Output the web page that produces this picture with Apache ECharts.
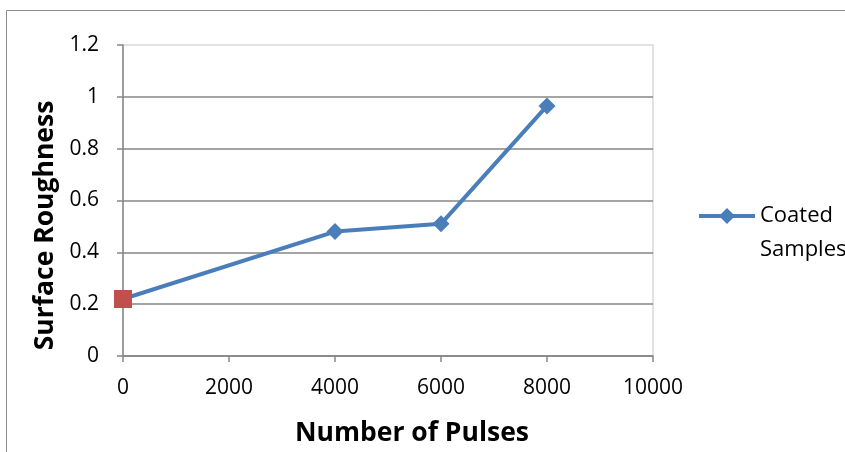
<!DOCTYPE html>
<html>
<head>
<meta charset="utf-8">
<script src="https://cdn.jsdelivr.net/npm/echarts@6/dist/echarts.min.js"></script>
<style>
  html, body { margin: 0; padding: 0; background: #fff; }
  #chart { width: 845px; height: 452px; }
</style>
</head>
<body>
<div id="chart"></div>
<script>
// Surface roughness of coated samples versus number of laser pulses
const pulses = [0, 4000, 6000, 8000];
const roughness = [0.22, 0.48, 0.51, 0.965];
const seriesName = 'Coated Samples';
const xTitle = 'Number of Pulses';
const yTitle = 'Surface Roughness';

const FONT = 'Open Sans';
const chart = echarts.init(document.getElementById('chart'));

const points = pulses.map((p, i) => {
  const pt = { value: [p, roughness[i]] };
  if (i === 0) {
    pt.symbol = 'rect';
    pt.symbolSize = 18;
    pt.itemStyle = { color: '#c0504d' };
  }
  return pt;
});

chart.setOption({
  animation: false,
  textStyle: { fontFamily: FONT },
  graphic: [{
    type: 'rect',
    shape: { x: 6.5, y: 10.5, width: 900, height: 500 },
    style: { fill: 'none', stroke: '#8c8c8c', lineWidth: 1 },
    silent: true
  }],
  grid: {
    left: 123, right: 192, top: 45, bottom: 95,
    show: true, borderColor: '#d9d9d9', borderWidth: 1.5
  },
  legend: {
    left: 697, top: 165, orient: 'vertical', padding: 0,
    itemWidth: 56, itemHeight: 20,
    lineStyle: { width: 4 },
    // a leading blank line keeps the icon level with the first word
    formatter: () => ' \nCoated\nSamples',
    textStyle: {
      fontSize: 22, color: '#000', fontFamily: FONT, lineHeight: 34
    },
    data: [seriesName]
  },
  xAxis: {
    type: 'value', min: 0, max: 10000, interval: 2000,
    name: xTitle, nameLocation: 'middle', nameGap: 64,
    nameTextStyle: {
      fontSize: 26.5, fontWeight: 'bold', color: '#000', fontFamily: FONT,
      padding: [0, 0, 0, 48]
    },
    axisLine: { show: true, onZero: false, lineStyle: { color: '#868686', width: 1.5 } },
    axisTick: { show: true, length: 6, lineStyle: { color: '#868686', width: 1.5 } },
    axisLabel: { fontSize: 21, color: '#000', margin: 22, formatter: v => String(v) },
    splitLine: { show: false }
  },
  yAxis: {
    type: 'value', min: 0, max: 1.2, interval: 0.2,
    name: yTitle, nameLocation: 'middle', nameGap: 64,
    nameTextStyle: {
      fontSize: 26.5, fontWeight: 'bold', color: '#000', fontFamily: FONT,
      padding: [0, 50, 0, 0]
    },
    axisLine: { show: true, lineStyle: { color: '#868686', width: 1.5 } },
    axisTick: { show: true, length: 6, lineStyle: { color: '#868686', width: 1.5 } },
    axisLabel: { fontSize: 21, color: '#000', margin: 24, formatter: v => String(+v.toFixed(1)) },
    splitLine: { show: true, showMaxLine: false, lineStyle: { color: '#868686', width: 1.5 } }
  },
  series: [{
    name: seriesName,
    type: 'line',
    data: points,
    symbol: 'diamond',
    symbolSize: 17,
    lineStyle: { color: '#4a7ebb', width: 4 },
    itemStyle: { color: '#4a7ebb' }
  }]
});
</script>
</body>
</html>
